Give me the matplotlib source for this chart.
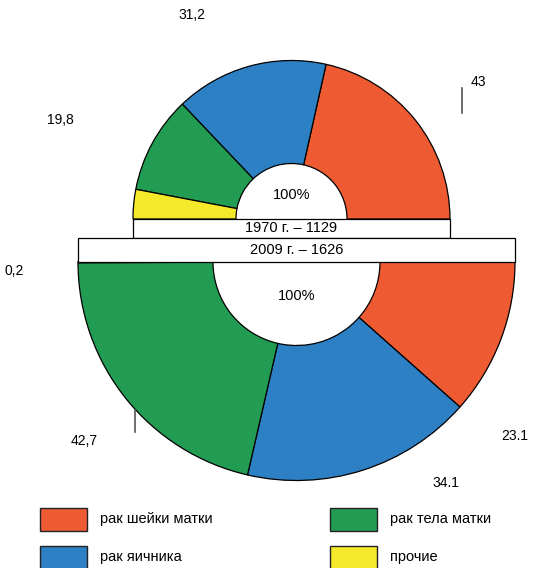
import matplotlib
matplotlib.use("Agg")
import matplotlib.pyplot as plt
from matplotlib.patches import Rectangle

plt.rcParams['font.family'] = ['Liberation Sans', 'DejaVu Sans']

categories = ["рак шейки матки", "рак яичника", "рак тела матки", "прочие"]
colors = ["#EE5A32", "#2C80C3", "#219C52", "#F4EA2A"]
values_1970 = [43, 31.2, 19.8, 6.0]
values_2009 = [23.1, 34.1, 42.7, 0.2]
labels_1970 = ["43", "31,2", "19,8", ""]
labels_2009 = ["23.1", "34.1", "42,7", "0,2"]
title_1970 = "1970 г. – 1129"
title_2009 = "2009 г. – 1626"

W, H = 539, 568
fig = plt.figure(figsize=(W / 100, H / 100), dpi=100)
ax = fig.add_axes([0, 0, 1, 1])

def Y(py):
    return H - py

# upper half donut (1970)
c1 = (291.5, Y(219))
r1, r1_in = 158.5, 55.5
ax.pie([v / 200 for v in values_1970], colors=colors, radius=r1, center=c1,
       startangle=0, counterclock=True, normalize=False, frame=True,
       wedgeprops=dict(width=r1 - r1_in, edgecolor='black', linewidth=0.9))

# lower half donut (2009)
c2 = (296.5, Y(262))
r2, r2_in = 218.5, 83.5
ax.pie([v / 200 for v in values_2009], colors=colors, radius=r2, center=c2,
       startangle=0, counterclock=False, normalize=False, frame=True,
       wedgeprops=dict(width=r2 - r2_in, edgecolor='black', linewidth=0.9))

ax.set_xlim(0, W)
ax.set_ylim(0, H)
ax.set_aspect('equal')
ax.axis('off')

# title boxes
ax.add_patch(Rectangle((133, Y(238)), 317, 19, facecolor='white', edgecolor='black', lw=0.9, zorder=5))
ax.add_patch(Rectangle((78, Y(262)), 437, 24, facecolor='white', edgecolor='black', lw=0.9, zorder=5))
ax.text(291.5, Y(228.5), title_1970, ha='center', va='center', fontsize=10.5, zorder=6)
ax.text(296.5, Y(250), title_2009, ha='center', va='center', fontsize=10.5, zorder=6)

ax.text(291.5, Y(195), "100%", ha='center', va='center', fontsize=10.5, zorder=6)
ax.text(296.5, Y(296), "100%", ha='center', va='center', fontsize=10.5, zorder=6)

# value labels
lab_pos_1970 = [(478, 82), (192, 15), (60, 120)]
for t, (x, y) in zip(labels_1970[:3], lab_pos_1970):
    ax.text(x, Y(y), t, ha='center', va='center', fontsize=10)
lab_pos_2009 = [(515, 436), (446, 483), (84, 441), (14, 271)]
for t, (x, y) in zip(labels_2009, lab_pos_2009):
    ax.text(x, Y(y), t, ha='center', va='center', fontsize=10)

ax.plot([462, 462], [Y(88), Y(113)], color='#555555', lw=1.2)
ax.plot([135, 135], [Y(410), Y(432)], color='#555555', lw=1.2)

# legend
leg = [(40, 508), (40, 546), (330, 508), (330, 546)]
for i, (x, y) in enumerate(leg):
    ax.add_patch(Rectangle((x, Y(y + 23)), 47, 23, facecolor=colors[i], edgecolor='#222222', lw=1.0))
    ax.text(x + 60, Y(y + 11.5), categories[i], ha='left', va='center', fontsize=10.5)

fig.savefig("out.png", dpi=100)
